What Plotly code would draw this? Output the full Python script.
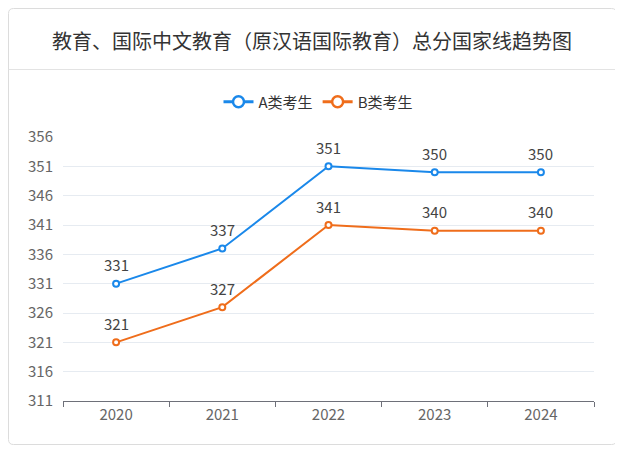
import plotly.graph_objects as go

years = ["2020", "2021", "2022", "2023", "2024"]
series_a = [331, 337, 351, 350, 350]
series_b = [321, 327, 341, 340, 340]
name_a = "A类考生"
name_b = "B类考生"
y_ticks = [311, 316, 321, 326, 331, 336, 341, 346, 351, 356]
title = "教育、国际中文教育（原汉语国际教育）总分国家线趋势图"

# page has an 8px body margin, so the figure is 8px smaller and all coords shifted
OFF = 8
W, H = 623 - OFF, 452 - OFF
L, R, T, B = 63 - OFF, 594 - OFF, 137 - OFF, 401 - OFF
pw, ph = R - L, B - T

def px(x):
    return (x - OFF - L) / pw

def py(y):
    return (B - (y - OFF)) / ph

font = "Microsoft YaHei, Noto Sans CJK SC, sans-serif"
blue = "#1a88ea"
orange = "#ef6d1b"

fig = go.Figure()
for name, vals, col in [(name_a, series_a, blue), (name_b, series_b, orange)]:
    fig.add_trace(go.Scatter(
        x=years, y=vals, name=name, mode="lines+markers",
        line=dict(color=col, width=2),
        marker=dict(symbol="circle", size=6, color="white", line=dict(color=col, width=2)),
        cliponaxis=False, showlegend=False,
    ))
    # legend entry with larger symbol
    fig.add_trace(go.Scatter(
        x=[None], y=[None], name=name, mode="lines+markers",
        line=dict(color=col, width=3),
        marker=dict(symbol="circle", size=11, color="white", line=dict(color=col, width=2.5)),
        showlegend=True,
    ))
    for i, v in enumerate(vals):
        fig.add_annotation(x=i, y=v, xref="x", yref="y", text=str(v), showarrow=False, yshift=19,
                           xanchor="center", yanchor="middle",
                           font=dict(size=15, color="#444", family=font))

# card with rounded corners
x0, x1, y0, y1 = 8.5, 616.5, 8.5, 444.5
r = 5
path = (f"M {px(x0+r)},{py(y0)} L {px(x1-r)},{py(y0)} Q {px(x1)},{py(y0)} {px(x1)},{py(y0+r)} "
        f"L {px(x1)},{py(y1-r)} Q {px(x1)},{py(y1)} {px(x1-r)},{py(y1)} "
        f"L {px(x0+r)},{py(y1)} Q {px(x0)},{py(y1)} {px(x0)},{py(y1-r)} "
        f"L {px(x0)},{py(y0+r)} Q {px(x0)},{py(y0)} {px(x0+r)},{py(y0)} Z")
fig.add_shape(type="path", path=path, xref="paper", yref="paper",
              line=dict(color="#dcdcdc", width=1), fillcolor="rgba(0,0,0,0)", layer="below")
fig.add_shape(type="line", xref="paper", yref="paper", x0=px(x0), x1=px(x1), y0=py(69.5), y1=py(69.5),
              line=dict(color="#e3e3e3", width=1), layer="below")

fig.add_annotation(text=title, xref="paper", yref="paper", x=px(312), y=py(40),
                   showarrow=False, xanchor="center", yanchor="middle",
                   font=dict(size=20, color="#333", family=font))

fig.update_layout(
    width=W, height=H,
    margin=dict(l=L, r=W - R, t=T, b=H - B),
    paper_bgcolor="white", plot_bgcolor="white",
    showlegend=True,
    legend=dict(orientation="h", x=px(318), xanchor="center", y=py(102), yanchor="middle",
                font=dict(size=15, color="#333", family=font), itemwidth=30,
                bgcolor="rgba(0,0,0,0)"),
    font=dict(family=font),
)
fig.update_xaxes(type="category", range=[-0.5, 4.5], showgrid=False,
                 showline=True, linecolor="#6e7079", linewidth=1,
                 ticks="outside", tickson="boundaries", ticklen=5, tickcolor="#6e7079",
                 tickfont=dict(size=15, color="#666", family=font))
fig.update_yaxes(range=[311, 356], tickvals=y_ticks, showgrid=True, gridcolor="#e6ebf1",
                 zeroline=False, showline=False,
                 tickfont=dict(size=15, color="#666", family=font), ticklabelstandoff=9)

fig.write_html("out.html")
